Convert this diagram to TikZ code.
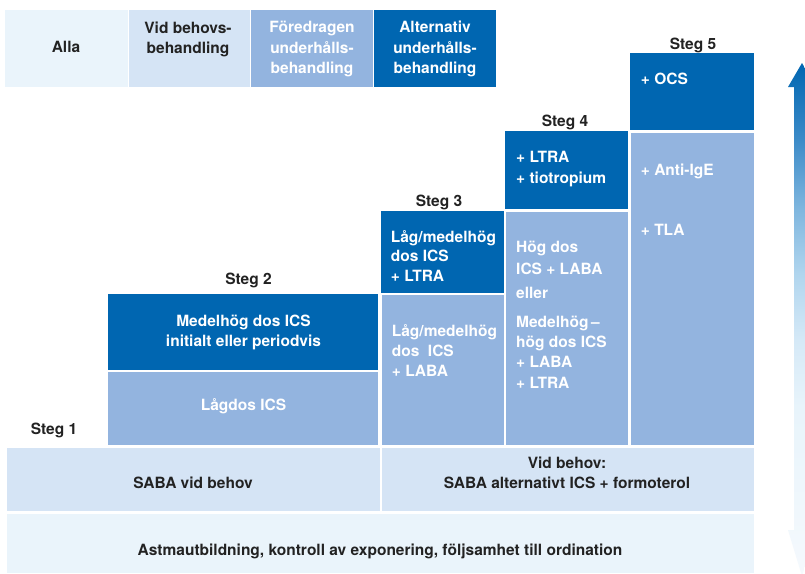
\documentclass[tikz,border=0pt]{standalone}
\usepackage{fontspec}
\setmainfont{TeX Gyre Heros}
\definecolor{dkblue}{HTML}{0066B1}
\definecolor{mdblue}{HTML}{93B4DF}
\definecolor{ltblue}{HTML}{D5E4F5}
\definecolor{vlblue}{HTML}{EAF4FB}
\definecolor{ink}{HTML}{222222}
\definecolor{ashA}{HTML}{F5F9FD}
\definecolor{ashB}{HTML}{E8F4FB}
\definecolor{ashC}{HTML}{D5E9F7}
\definecolor{ashD}{HTML}{B0D5EE}
\definecolor{ashE}{HTML}{7DB5DE}
\definecolor{ashF}{HTML}{3C8BC8}
\pgfdeclareverticalshading{arrshade}{100bp}{color(0bp)=(ashA); color(25bp)=(ashA); color(41.5bp)=(ashB); color(48bp)=(ashC); color(54.5bp)=(ashD); color(61bp)=(ashE); color(67.5bp)=(ashF); color(75bp)=(dkblue); color(100bp)=(dkblue)}
\begin{document}
\begin{tikzpicture}[x=1pt,y=-1pt,
  txt/.style={font=\fontsize{15.5}{20}\selectfont\bfseries, inner sep=0pt},
  wl/.style={txt, text=white, anchor=base west},
  wc/.style={txt, text=white, anchor=base},
  kc/.style={txt, text=ink, anchor=base}]
\useasboundingbox (0,0) rectangle (805,573);
\clip (0,0) rectangle (805,573);
\fill[white] (0,0) rectangle (805,573);

% header legend
\fill[vlblue] (5,10) rectangle (128,87);
\fill[ltblue] (129,10) rectangle (250,87);
\fill[mdblue] (251,10) rectangle (373,87);
\fill[dkblue] (374,10) rectangle (496,87);
\node[kc] (alla) at (66,52.7) {Alla};
\node[kc] (vid1) at (188,33.3) {Vid behovs-};
\node[kc] (vid2) at (188,53) {behandling};
\node[wc] (for1) at (312,32.5) {Föredragen};
\node[wc] (for2) at (312,53) {underhålls-};
\node[wc] (for3) at (312,73) {behandling};
\node[wc] (alt1) at (435,32.5) {Alternativ};
\node[wc] (alt2) at (435,53) {underhålls-};
\node[wc] (alt3) at (435,73) {behandling};

% step labels
\node[kc] (steg1) at (54,434) {Steg 1};
\node[kc] (steg2) at (248.5,284) {Steg 2};
\node[kc] (steg3) at (439,206) {Steg 3};
\node[kc] (steg4) at (565,126.5) {Steg 4};
\node[kc] (steg5) at (693,49.5) {Steg 5};

% step 2
\fill[dkblue] (108,294) rectangle (378,370);
\fill[mdblue] (108,372) rectangle (378,445);
\node[wc] (s2a) at (243.5,326.7) {Medelhög dos ICS};
\node[wc] (s2b) at (243.5,346) {initialt eller periodvis};
\node[wc] (s2c) at (243.5,410.7) {Lågdos ICS};

% step 3
\fill[dkblue] (381,211) rectangle (503.5,292.5);
\fill[mdblue] (382,295) rectangle (503.5,445);
\node[wl] (s3a) at (390.7,242.3) {Låg/medelhög};
\node[wl] (s3b) at (390.7,261.7) {dos ICS};
\node[wl] (s3c) at (390.7,281) {+ LTRA};
\node[wl] (s3d) at (391.7,336.7) {Låg/medelhög};
\node[wl] (s3e) at (391.7,356) {dos\hspace{0.55em}ICS};
\node[wl] (s3f) at (391.7,376) {+ LABA};

% step 4
\fill[dkblue] (505,131) rectangle (627.5,208.5);
\fill[mdblue] (506,212) rectangle (627.5,445);
\node[wl] (s4a) at (516,162.5) {+ LTRA};
\node[wl] (s4b) at (516,183) {+ tiotropium};
\node[wl] (s4c) at (516,252.7) {Hög dos};
\node[wl] (s4d) at (516,274) {ICS + LABA};
\node[wl] (s4e) at (516,298.3) {eller};
\node[wl] (s4f) at (516,327.7) {Medelhög\,–};
\node[wl] (s4g) at (516,347.3) {hög dos ICS};
\node[wl] (s4h) at (516,367.3) {+ LABA};
\node[wl] (s4i) at (516,388.3) {+ LTRA};

% step 5
\fill[dkblue] (629.5,53) rectangle (753.5,129.5);
\fill[mdblue] (631,133) rectangle (753.5,445);
\node[wl] (s5a) at (640.7,84) {+ OCS};
\node[wl] (s5b) at (640.7,175.7) {+ Anti-IgE};
\node[wl] (s5c) at (640.7,235.7) {+ TLA};

% base rows
\fill[ltblue] (7,447.5) rectangle (379.5,511);
\fill[ltblue] (382,447.5) rectangle (753.5,511);
\fill[vlblue] (7,514) rectangle (753.5,573);
\node[kc] (saba) at (193,488.3) {SABA vid behov};
\node[kc] (vb1) at (567,468.3) {Vid behov:};
\node[kc] (vb2) at (567,488.3) {SABA alternativt ICS + formoterol};
\node[kc] (astma) at (380,555) {Astmautbildning, kontroll av exponering, följsamhet till ordination};

% gradient double arrow
\shade[shading=arrshade] (802,63) -- (816,87) -- (810,87) -- (810,530) -- (816,530)
  -- (802,576) -- (788,530) -- (794,530) -- (794,87) -- (788,87) -- cycle;
\end{tikzpicture}
\end{document}
